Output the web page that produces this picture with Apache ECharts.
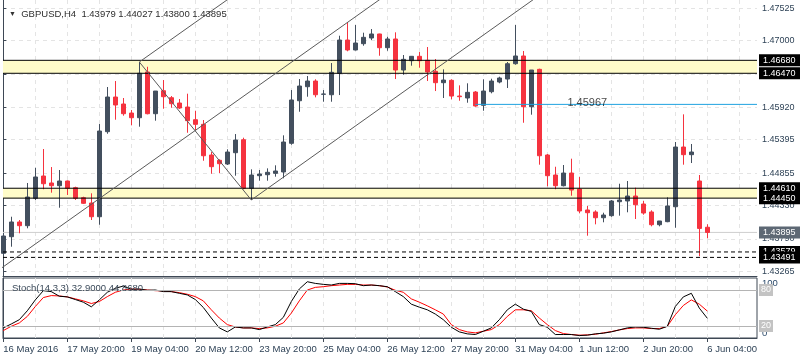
<!DOCTYPE html>
<html><head><meta charset="utf-8">
<script src="https://cdn.jsdelivr.net/npm/echarts@6/dist/echarts.min.js"></script>
<style>html,body{margin:0;padding:0;background:#fff;}#c{width:800px;height:360px;}</style>
</head><body><div id="c"></div>
<script>
// ---- DATA (GBPUSD H4) ----
const opens  = [1.43557,1.43826,1.44064,1.44004,1.44447,1.44808,1.44695,1.44651,1.44727,1.44619,1.44457,1.44371,1.44149,1.45525,1.46086,1.45973,1.45827,1.45751,1.46491,1.45816,1.46188,1.46075,1.45989,1.45924,1.45719,1.45644,1.45148,1.45062,1.45002,1.45185,1.45395,1.44609,1.44813,1.44829,1.44851,1.44873,1.45337,1.46026,1.46253,1.46345,1.46130,1.46123,1.46470,1.47008,1.46847,1.46949,1.47041,1.47106,1.46884,1.47025,1.46523,1.46674,1.46745,1.46680,1.46502,1.46318,1.46356,1.46102,1.46070,1.46167,1.45952,1.46172,1.46329,1.46377,1.46625,1.46750,1.45929,1.46534,1.45148,1.44824,1.44651,1.44856,1.44598,1.44258,1.44226,1.44133,1.44166,1.44392,1.44404,1.44484,1.44355,1.44226,1.44020,1.44069,1.44311,1.45277,1.45153,1.44727,1.43979];
const highs  = [1.43881,1.44149,1.44096,1.44695,1.44942,1.45245,1.44953,1.44905,1.44735,1.44635,1.44473,1.44528,1.45649,1.46248,1.46345,1.46070,1.45876,1.46653,1.46576,1.46183,1.46361,1.46102,1.46054,1.46140,1.45864,1.45714,1.45196,1.45078,1.45240,1.45487,1.45428,1.44916,1.44905,1.44932,1.44981,1.45466,1.46199,1.46377,1.46426,1.46373,1.46199,1.46636,1.47078,1.47300,1.47251,1.47127,1.47186,1.47110,1.47062,1.47133,1.46766,1.46750,1.46814,1.46895,1.46701,1.46534,1.46373,1.46275,1.46308,1.46183,1.46373,1.46382,1.46415,1.46653,1.47251,1.46831,1.46523,1.46544,1.45164,1.44958,1.44986,1.45088,1.44792,1.44323,1.44253,1.44214,1.44420,1.44683,1.44727,1.44619,1.44404,1.44253,1.44080,1.44463,1.45358,1.45806,1.45326,1.44824,1.44027];
const lows   = [1.43530,1.43664,1.43881,1.43962,1.44420,1.44593,1.44538,1.44295,1.44501,1.44420,1.44355,1.44096,1.44020,1.45492,1.45719,1.45784,1.45628,1.45606,1.45806,1.45703,1.45897,1.45913,1.45892,1.45508,1.45552,1.45055,1.44845,1.44856,1.44986,1.44813,1.44593,1.44420,1.44732,1.44732,1.44797,1.44771,1.45314,1.45848,1.46091,1.46081,1.46010,1.46010,1.46118,1.46826,1.46840,1.46916,1.47008,1.46754,1.46835,1.46377,1.46447,1.46593,1.46560,1.46345,1.46183,1.46070,1.46049,1.46026,1.45994,1.45929,1.45864,1.46146,1.46308,1.46232,1.46609,1.45670,1.45800,1.44991,1.44641,1.44593,1.44640,1.44489,1.44204,1.43842,1.44026,1.44059,1.44149,1.44166,1.44221,1.44112,1.44182,1.43994,1.43994,1.44060,1.43971,1.44991,1.45018,1.43510,1.43800];
const closes = [1.43837,1.44064,1.44004,1.44468,1.44792,1.44683,1.44651,1.44727,1.44609,1.44447,1.44366,1.44149,1.45536,1.46086,1.45957,1.45816,1.45751,1.46470,1.45816,1.46183,1.46091,1.45978,1.45908,1.45703,1.45644,1.45136,1.44959,1.45007,1.45196,1.45390,1.44609,1.44824,1.44840,1.44868,1.44889,1.45358,1.46038,1.46264,1.46345,1.46123,1.46135,1.46486,1.47008,1.46847,1.46960,1.47052,1.47106,1.46884,1.47025,1.46523,1.46696,1.46745,1.46674,1.46491,1.46318,1.46361,1.46102,1.46091,1.46162,1.45941,1.46183,1.46345,1.46394,1.46625,1.46750,1.45929,1.46523,1.45136,1.44813,1.44651,1.44856,1.44581,1.44242,1.44214,1.44133,1.44177,1.44404,1.44420,1.44484,1.44343,1.44209,1.44020,1.44080,1.44323,1.45277,1.45153,1.45196,1.43960,1.43895];
const stochK = [16.8,23.4,30.5,45.4,63.5,78.9,77.3,69.6,68.5,64.1,59.7,52.0,63.5,76.2,82.8,86.6,81.1,81.7,79.5,80.0,77.3,77.3,74.5,71.8,64.1,50.9,33.3,16.8,10.2,18.4,16.8,16.8,14.0,18.4,22.3,34.4,60.8,81.7,93.8,91.0,89.4,88.3,91.0,91.0,90.5,87.2,88.3,87.2,85.5,77.3,69.0,56.4,51.4,47.0,39.9,30.5,17.9,10.2,6.9,5.8,11.3,16.8,30.5,47.0,56.4,48.1,44.3,22.3,17.9,5.8,5.8,5.8,4.1,4.7,6.9,8.0,10.2,13.5,16.8,18.4,17.9,16.2,14.6,19.5,52.5,68.5,74.5,49.8,32.9];
const stochD = [12.4,19.6,25.1,36.0,52.5,67.4,70.7,70.1,68.5,65.2,61.9,57.5,60.8,69.0,76.2,80.0,81.7,81.1,80.0,78.9,78.4,77.3,75.6,72.9,69.0,61.9,47.0,33.3,22.3,18.4,16.8,16.8,15.7,16.8,19.6,25.1,41.5,61.9,80.0,84.4,85.5,87.2,88.3,89.4,89.4,88.3,88.3,87.2,85.0,79.5,76.2,65.2,59.7,53.6,47.0,39.9,22.3,14.0,10.2,8.5,11.3,14.0,22.3,36.0,47.0,47.0,45.4,33.3,22.3,12.4,7.4,5.8,4.7,5.2,6.3,8.5,10.7,13.5,15.7,16.8,16.8,15.7,15.7,19.5,38.8,54.2,63.5,56.4,44.868];
const timeLabels = ["16 May 2016","17 May 20:00","19 May 04:00","20 May 12:00","23 May 20:00","25 May 04:00","26 May 12:00","27 May 20:00","31 May 04:00","1 Jun 12:00","2 Jun 20:00","6 Jun 04:00"];
const timeLabelBars = [0,8,16,24,32,40,48,56,64,72,80,88];
const gridLineBars = [0,4,8,12,16,20,24,28,32,36,40,44,48,52,56,60,64,68,72,76,80,84,88,92];
const priceTicks = [1.43265,1.43790,1.44330,1.44855,1.45395,1.45920,1.46460,1.47000,1.47525];
const zoneTops = [1.46680, 1.44610];
const zoneBottoms = [1.46470, 1.44450];
const dashedLevels = [1.43579, 1.43491];
const blueLevel = 1.45967, blueStartBar = 59, blueTextBar = 73;
const bidPrice = 1.43895;
const trendLines = [
  [[-2, 1.43156], [48, 1.47751]],
  [[17, 1.46653], [29, 1.47752]],
  [[31, 1.44420], [67, 1.47732]],
  [[17, 1.46653], [31, 1.44420]]
];
const headerText = 'GBPUSD,H4  1.43979 1.44027 1.43800 1.43895';
const stochText = 'Stoch(14,3,3) 32.9000 44.8680';

// ---- CHART ----
const FONT = '"Liberation Sans", Arial, sans-serif';
const AXC = '#2f4357';
const BORDER = '#3e4855';
const X_MIN = -0.04, X_MAX = 94.21;
const candleData = opens.map((o, i) => [i, o, closes[i], lows[i], highs[i]]);
const kData = stochK.map((v, i) => [i, v]);
const dData = stochD.map((v, i) => [i, v]);

function levelSeries(v, color, type, labelBg, fromBar) {
  const s = {type: 'line', xAxisIndex: 0, yAxisIndex: 0, z: 4, symbol: 'none', silent: true, clip: false,
    data: [[fromBar == null ? X_MIN : fromBar, v], [X_MAX, v]],
    lineStyle: {color: color, width: 1, type: type}};
  if (labelBg) {
    s.endLabel = {show: true, formatter: v.toFixed(5), color: '#fff', backgroundColor: labelBg,
      padding: [2, 7, 1, 4], fontSize: 9, fontFamily: FONT, distance: 2};
  }
  return s;
}

const zones = zoneTops.map((v, k) => [{yAxis: v}, {yAxis: zoneBottoms[k]}]);

const series = [
  {type: 'line', xAxisIndex: 0, yAxisIndex: 0, data: [], z: 1, silent: true,
   markArea: {silent: true, itemStyle: {color: '#fffcc9'}, data: zones}},
  {type: 'candlestick', xAxisIndex: 0, yAxisIndex: 0, data: candleData, z: 3, barWidth: 5,
   encode: {x: 0, y: [1, 2, 3, 4]},
   itemStyle: {color: '#434f5e', color0: '#f5333f', borderColor: '#434f5e', borderColor0: '#f5333f', borderWidth: 1}}
];
series.push(levelSeries(bidPrice, '#cfcfcf', 'solid', '#5d6874'));
series[series.length - 1].z = 2;
series.push(levelSeries(blueLevel, '#1fa2e0', 'solid', null, blueStartBar));
zoneTops.forEach((v, k) => {
  series.push(levelSeries(v, '#000', 'solid', '#000'));
  series.push(levelSeries(zoneBottoms[k], '#000', 'solid', '#000'));
});
dashedLevels.forEach(v => series.push(levelSeries(v, '#000', [4, 3], '#000')));
trendLines.forEach(seg => series.push({type: 'line', xAxisIndex: 0, yAxisIndex: 0, data: seg, z: 5,
  symbol: 'none', clip: true, silent: true, lineStyle: {color: '#5a5a5a', width: 1}}));
series.push({type: 'scatter', xAxisIndex: 0, yAxisIndex: 0, data: [[blueTextBar, blueLevel]], z: 6,
  symbolSize: 1, itemStyle: {color: 'rgba(0,0,0,0)'}, silent: true,
  label: {show: true, position: 'inside', formatter: blueLevel.toFixed(5), offset: [0, -1], color: '#151515', fontSize: 11, fontFamily: FONT}});
series.push({type: 'line', xAxisIndex: 1, yAxisIndex: 1, data: dData, z: 3, symbol: 'none',
  lineStyle: {color: '#ff0000', width: 1},
  markLine: {silent: true, symbol: ['none', 'none'], lineStyle: {color: '#b4b4b4', width: 1, type: 'solid'},
    data: [{yAxis: 80, label: {show: true, position: 'end', formatter: '80', color: '#fff', backgroundColor: '#c3c3c3', padding: [2, 2, 1, 2], fontSize: 9, fontFamily: FONT, distance: 2}},
           {yAxis: 20, label: {show: true, position: 'end', formatter: '20', color: '#fff', backgroundColor: '#c3c3c3', padding: [2, 2, 1, 2], fontSize: 9, fontFamily: FONT, distance: 2}}]}});
series.push({type: 'line', xAxisIndex: 1, yAxisIndex: 1, data: kData, z: 4, symbol: 'none',
  lineStyle: {color: '#000', width: 1}});

const gridSplitX = {show: true, lineStyle: {color: '#e4e4e4', type: [4, 4], width: 1}};
const option = {
  animation: false,
  backgroundColor: '#fff',
  title: [
    {text: '{t|▼}  ' + headerText, left: 4, top: 4, textStyle: {fontSize: 9.5, fontWeight: 'normal', color: '#2e2e2e', fontFamily: FONT,
      rich: {t: {fontSize: 7, color: '#333'}}}},
    {text: stochText, left: 7, top: 278, textStyle: {fontSize: 9.5, fontWeight: 'normal', color: '#3b4a5a', fontFamily: FONT}}
  ],
  grid: [
    {left: 3, top: 0, width: 754, height: 276, show: false},
    {left: 3, top: 278, width: 754, height: 60, show: true, borderColor: BORDER, borderWidth: 1}
  ],
  xAxis: [
    {type: 'value', gridIndex: 0, min: X_MIN, max: X_MAX, position: 'bottom',
     axisLine: {show: true, lineStyle: {color: BORDER}}, axisTick: {show: false, customValues: gridLineBars},
     axisLabel: {show: false, customValues: gridLineBars}, splitLine: gridSplitX},
    {type: 'value', gridIndex: 1, min: X_MIN, max: X_MAX, position: 'bottom',
     axisLine: {show: false}, axisTick: {show: false, customValues: gridLineBars},
     axisLabel: {show: false, customValues: gridLineBars}, splitLine: gridSplitX},
    {type: 'value', gridIndex: 1, min: X_MIN, max: X_MAX, position: 'bottom',
     axisLine: {show: true, lineStyle: {color: BORDER}},
     axisTick: {show: true, length: 4, customValues: timeLabelBars, lineStyle: {color: BORDER}},
     axisLabel: {show: true, customValues: timeLabelBars, align: 'left', margin: 6, fontSize: 9.5, color: AXC, fontFamily: FONT,
       formatter: v => timeLabels[timeLabelBars.indexOf(Math.round(v))] || ''},
     splitLine: {show: false}}
  ],
  yAxis: [
    {type: 'value', gridIndex: 0, position: 'right', min: 1.43190, max: 1.47656,
     axisLine: {show: true, lineStyle: {color: BORDER}},
     axisTick: {show: true, length: 3, customValues: priceTicks, lineStyle: {color: BORDER}},
     axisLabel: {show: true, customValues: priceTicks, margin: 5, fontSize: 9, color: AXC, fontFamily: FONT, formatter: v => v.toFixed(5)},
     splitLine: {show: true, lineStyle: {color: '#e4e4e4', type: [4, 4], width: 1}}},
    {type: 'value', gridIndex: 1, position: 'right', min: 0, max: 100,
     axisLine: {show: true, lineStyle: {color: BORDER}}, axisTick: {show: false, customValues: [0, 100]},
     axisLabel: {show: true, customValues: [0, 100], margin: 5, fontSize: 9.5, color: '#2c4a6a', fontFamily: FONT,
       verticalAlignMinLabel: 'bottom', verticalAlignMaxLabel: 'top'},
     splitLine: {show: false}},
    {type: 'value', gridIndex: 0, position: 'left', min: 1.43190, max: 1.47656,
     axisLine: {show: true, lineStyle: {color: BORDER}}, axisTick: {show: false}, axisLabel: {show: false}, splitLine: {show: false}}
  ],
  series: series
};
const chart = echarts.init(document.getElementById('c'));
chart.setOption(option);
</script>
</body></html>
